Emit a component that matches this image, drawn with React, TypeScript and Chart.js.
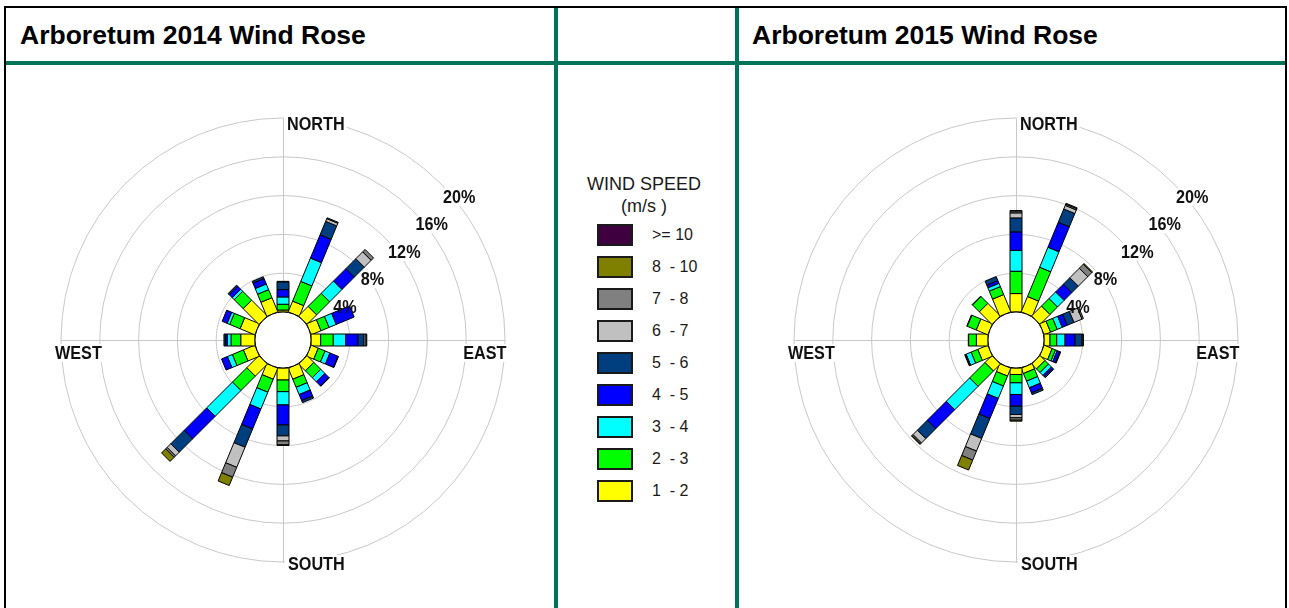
import React, { useEffect, useRef } from "react";
import { Chart, registerables } from "chart.js";

Chart.register(...registerables);

// ---------------- data ----------------
const DIRECTIONS = ["N", "NNE", "NE", "ENE", "E", "ESE", "SE", "SSE", "S", "SSW", "SW", "WSW", "W", "WNW", "NW", "NNW"];
const COMPASS_LABELS = ["NORTH", "EAST", "SOUTH", "WEST"];
const RING_TICKS = [4, 8, 12, 16, 20];
const RING_LABELS = ["4%", "8%", "12%", "16%", "20%"];
const SPEED_BINS = ["1  - 2", "2  - 3", "3  - 4", "4  - 5", "5  - 6", "6  - 7", "7  - 8", "8  - 10", ">= 10"];
const BIN_COLORS = ["#ffff00", "#00ff00", "#00ffff", "#0000ff", "#003f7f", "#c0c0c0", "#808080", "#808000", "#3f003f"];
const TITLES = ["Arboretum 2014 Wind Rose", "Arboretum 2015 Wind Rose"];
const LEGEND_TITLE = ["WIND SPEED", "(m/s )"];

// 2014 frequency (%) per direction, by speed bin
const WR2014_1_2 = [0.2, 1.2, 1.4, 1.1, 1.0, 0.8, 1.0, 1.24, 1.24, 1.24, 1.77, 1.28, 1.47, 1.65, 2.3, 1.58];
const WR2014_2_3 = [0.6, 2.2, 1.9, 0.9, 1.3, 0.75, 1.0, 0.9, 1.2, 1.45, 2.1, 1.23, 1.0, 1.15, 1.3, 0.9];
const WR2014_3_4 = [0.75, 2.6, 1.8, 0.8, 1.28, 0.55, 0.6, 0.81, 1.37, 1.87, 3.76, 0.56, 0.38, 0.3, 0.3, 0.63];
const WR2014_4_5 = [0.76, 2.6, 1.8, 2.0, 1.27, 0.9, 0.6, 0.67, 2.06, 2.23, 3.28, 0.65, 0.2, 0.55, 0.45, 0.6];
const WR2014_5_6 = [0.8, 1.5, 1.45, 0, 0.62, 0.05, 0.05, 0.23, 1.13, 2.04, 1.95, 0, 0.15, 0, 0.15, 0.2];
const WR2014_6_7 = [0.05, 0.3, 1.0, 0, 0.2, 0, 0, 0, 0.52, 2.24, 0.54, 0, 0, 0, 0, 0];
const WR2014_7_8 = [0, 0.1, 0.35, 0, 0.08, 0, 0, 0, 0.41, 1.1, 0.2, 0, 0, 0, 0, 0];
const WR2014_8_10 = [0, 0, 0, 0, 0, 0, 0, 0, 0.05, 0.93, 0.6, 0, 0, 0, 0, 0];
const WR2014_10 = [0, 0, 0, 0, 0, 0, 0, 0, 0, 0, 0, 0, 0, 0, 0, 0];

// 2015 frequency (%) per direction, by speed bin
const WR2015_1_2 = [1.9, 1.71, 1.45, 0.72, 0.62, 0.9, 0.72, 0.6, 0.67, 0.89, 1.02, 1.13, 1.2, 1.3, 1.84, 1.93];
const WR2015_2_3 = [2.3, 3.27, 1.1, 0.74, 0.69, 0.37, 0.52, 0.85, 0.86, 1.11, 2.24, 0.74, 0.8, 1.0, 1.0, 0.89];
const WR2015_3_4 = [2.16, 2.23, 0.96, 0.56, 0.86, 0.2, 0.42, 0.74, 1.2, 1.38, 3.4, 0.56, 0.03, 0.05, 0.05, 0.37];
const WR2015_4_5 = [1.9, 2.79, 1.13, 0.56, 1.03, 0.3, 0.2, 0.57, 1.2, 2.24, 2.77, 0.1, 0, 0, 0, 0.3];
const WR2015_5_6 = [1.44, 1.48, 0.94, 0.75, 0.69, 0.08, 0.14, 0.2, 0.86, 2.23, 1.45, 0.05, 0, 0, 0, 0.44];
const WR2015_6_7 = [0.52, 0.4, 1.38, 0.9, 0.12, 0, 0, 0, 0.34, 1.41, 0.64, 0, 0, 0, 0, 0];
const WR2015_7_8 = [0.2, 0.15, 0.6, 0.15, 0.05, 0, 0, 0, 0.25, 1.0, 0.15, 0, 0, 0, 0, 0];
const WR2015_8_10 = [0.04, 0.08, 0.09, 0, 0, 0, 0, 0, 0.1, 1.11, 0.06, 0, 0, 0, 0, 0];
const WR2015_10 = [0, 0, 0, 0, 0, 0, 0, 0, 0, 0, 0, 0, 0, 0, 0, 0];

const SERIES_2014 = [WR2014_1_2, WR2014_2_3, WR2014_3_4, WR2014_4_5, WR2014_5_6, WR2014_6_7, WR2014_7_8, WR2014_8_10, WR2014_10];
const SERIES_2015 = [WR2015_1_2, WR2015_2_3, WR2015_3_4, WR2015_4_5, WR2015_5_6, WR2015_6_7, WR2015_7_8, WR2015_8_10, WR2015_10];

// ---------------- geometry / style ----------------
const CANVAS = 500;
const CALM_PX = 28;
const PX_PER_PCT = 9.7;
const R_MIN = -CALM_PX / PX_PER_PCT;
const R_MAX = R_MIN + CANVAS / 2 / PX_PER_PCT;
const BAR_WIDTH = 12;
const GRID_COLOR = "#c8c8c8";
const GREEN = "#007458";
const FONT = '"Liberation Sans", Arial, sans-serif';
const LABEL_FONT = `bold 18px ${FONT}`;
const LABEL_SX = 0.9;
const CAP = 0.716 * 18;

function drawLabel(
  ctx: CanvasRenderingContext2D,
  text: string,
  x: number,
  baseline: number,
  align: "left" | "right",
  bg: boolean,
  fg: boolean
) {
  ctx.save();
  ctx.font = LABEL_FONT;
  const w = ctx.measureText(text).width * LABEL_SX;
  const left = align === "left" ? x : x - w;
  if (bg) {
    ctx.fillStyle = "#ffffff";
    ctx.fillRect(left - 3, baseline - CAP - 2, w + 5, CAP + 5);
  }
  if (fg) {
    ctx.translate(left, baseline);
    ctx.scale(LABEL_SX, 1);
    ctx.fillStyle = "#111111";
    ctx.textAlign = "left";
    ctx.textBaseline = "alphabetic";
    ctx.fillText(text, 0, 0);
  }
  ctx.restore();
}

function percentLabels(chart: any, bg: boolean, fg: boolean) {
  const s = chart.scales.r;
  const ctx: CanvasRenderingContext2D = chart.ctx;
  RING_TICKS.forEach((v, i) => {
    const d = s.getDistanceFromCenterForValue(v);
    const px = s.xCenter + d * Math.SQRT1_2;
    const py = s.yCenter - d * Math.SQRT1_2;
    drawLabel(ctx, RING_LABELS[i], px + 3, py + 20, "left", bg, fg);
  });
}

const roseDecor = {
  id: "roseDecor",
  beforeDatasetsDraw(chart: any) {
    const s = chart.scales.r;
    const ctx: CanvasRenderingContext2D = chart.ctx;
    const xc = s.xCenter;
    const yc = s.yCenter;
    const R = s.getDistanceFromCenterForValue(RING_TICKS[RING_TICKS.length - 1]);
    ctx.save();
    ctx.strokeStyle = GRID_COLOR;
    ctx.lineWidth = 1;
    for (let i = 0; i < DIRECTIONS.length; i += 4) {
      const p = s.getPointPosition(i, R);
      ctx.beginPath();
      ctx.moveTo(xc + 0.5, yc + 0.5);
      ctx.lineTo(p.x + 0.5, p.y + 0.5);
      ctx.stroke();
    }
    ctx.restore();
    percentLabels(chart, true, false);
    drawLabel(ctx, COMPASS_LABELS[0], xc + 4, yc - R + 12, "left", true, true);
    drawLabel(ctx, COMPASS_LABELS[1], xc + R + 1.5, yc + 19, "right", true, true);
    drawLabel(ctx, COMPASS_LABELS[2], xc + 5, yc + R + 8, "left", true, true);
    drawLabel(ctx, COMPASS_LABELS[3], xc - R - 6, yc + 19, "left", true, true);
  },
  afterDatasetsDraw(chart: any) {
    const s = chart.scales.r;
    const ctx: CanvasRenderingContext2D = chart.ctx;
    const nSets = chart.data.datasets.length;
    ctx.save();
    ctx.lineWidth = 1;
    ctx.strokeStyle = "#000000";
    for (let j = 0; j < DIRECTIONS.length; j++) {
      const ang = s.getIndexAngle(j) - Math.PI / 2;
      const nx = -Math.sin(ang) * (BAR_WIDTH / 2);
      const ny = Math.cos(ang) * (BAR_WIDTH / 2);
      let prev = s.getPointPositionForValue(j, 0);
      for (let k = 0; k < nSets; k++) {
        const pt = chart.getDatasetMeta(k).data[j];
        if (!pt) continue;
        if (Math.hypot(pt.x - prev.x, pt.y - prev.y) < 0.2) continue;
        ctx.beginPath();
        ctx.moveTo(prev.x + nx, prev.y + ny);
        ctx.lineTo(pt.x + nx, pt.y + ny);
        ctx.lineTo(pt.x - nx, pt.y - ny);
        ctx.lineTo(prev.x - nx, prev.y - ny);
        ctx.closePath();
        ctx.fillStyle = chart.data.datasets[k].backgroundColor;
        ctx.fill();
        ctx.stroke();
        prev = { x: pt.x, y: pt.y };
      }
    }
    // calm circle
    const rc = s.getDistanceFromCenterForValue(0);
    ctx.beginPath();
    ctx.arc(s.xCenter, s.yCenter, rc, 0, Math.PI * 2);
    ctx.fillStyle = "#ffffff";
    ctx.fill();
    ctx.stroke();
    ctx.restore();
    percentLabels(chart, false, true);
  },
};

function RoseChart({ series, left, top }: { series: number[][]; left: number; top: number }) {
  const ref = useRef<HTMLCanvasElement | null>(null);
  useEffect(() => {
    if (!ref.current) return;
    let cum = DIRECTIONS.map(() => 0);
    const datasets = series.map((vals, k) => {
      cum = cum.map((c, j) => c + vals[j]);
      return {
        label: SPEED_BINS[k],
        data: cum.slice(),
        backgroundColor: BIN_COLORS[k],
        borderColor: "#000000",
        borderWidth: 0,
        pointRadius: 0,
        pointHoverRadius: 0,
        showLine: false,
        fill: false,
      };
    });
    const chart = new Chart(ref.current, {
      type: "radar",
      data: { labels: DIRECTIONS, datasets },
      options: {
        animation: false,
        responsive: false,
        events: [],
        layout: { padding: 0 },
        plugins: { legend: { display: false }, tooltip: { enabled: false }, title: { display: false } },
        scales: {
          r: {
            min: R_MIN,
            max: R_MAX,
            startAngle: 0,
            angleLines: { display: false },
            pointLabels: { display: false },
            ticks: { display: false },
            grid: { circular: true, color: GRID_COLOR, lineWidth: 1 },
            afterBuildTicks: (scale: any) => {
              scale.ticks = [0, ...RING_TICKS].map((v) => ({ value: v }));
            },
          },
        },
      } as any,
      plugins: [roseDecor],
    });
    return () => chart.destroy();
  }, [series]);
  return (
    <canvas
      ref={ref}
      width={CANVAS}
      height={CANVAS}
      style={{ position: "absolute", left, top, width: CANVAS, height: CANVAS, display: "block" }}
    />
  );
}

function Bar({ l, t, w, h, c }: { l: number; t: number; w: number; h: number; c: string }) {
  return <div style={{ position: "absolute", left: l, top: t, width: w, height: h, background: c }} />;
}

function Legend() {
  const items = SPEED_BINS.map((label, i) => ({ label, color: BIN_COLORS[i] })).reverse();
  return (
    <>
      {LEGEND_TITLE.map((t, i) => (
        <div
          key={t}
          style={{
            position: "absolute",
            left: 558,
            width: 172,
            top: i === 0 ? 174.8 : 197,
            textAlign: "center",
            font: `18px ${FONT}`,
            lineHeight: "18px",
            color: "#1a1a1a",
            whiteSpace: "pre",
          }}
        >
          {t}
        </div>
      ))}
      {items.map((it, i) => (
        <React.Fragment key={it.label}>
          <div
            style={{
              position: "absolute",
              left: 597,
              top: 224 + 32 * i,
              width: 36,
              height: 22,
              boxSizing: "border-box",
              border: "2px solid #1a1a1a",
              background: it.color,
            }}
          />
          <div
            style={{
              position: "absolute",
              left: 652,
              top: 227.2 + 32 * i,
              font: `16px ${FONT}`,
              lineHeight: "16px",
              color: "#1a1a1a",
              whiteSpace: "pre",
            }}
          >
            {it.label}
          </div>
        </React.Fragment>
      ))}
    </>
  );
}

export default function App() {
  return (
    <div
      style={{
        position: "absolute",
        left: 0,
        top: 0,
        width: 1289,
        height: 608,
        overflow: "hidden",
        background: "#ffffff",
        fontFamily: FONT,
      }}
    >
      <Bar l={4} t={6} w={1283} h={2} c="#000" />
      <Bar l={4} t={6} w={2} h={602} c="#000" />
      <Bar l={1285} t={6} w={2} h={602} c="#000" />
      <Bar l={6} t={61} w={1279} h={4} c={GREEN} />
      <Bar l={554} t={8} w={4} h={600} c={GREEN} />
      <Bar l={735} t={8} w={4} h={600} c={GREEN} />
      {TITLES.map((t, i) => (
        <div
          key={t}
          style={{
            position: "absolute",
            left: i === 0 ? 20 : 752,
            top: 21.6,
            font: `bold 26.5px ${FONT}`,
            lineHeight: "26.5px",
            color: "#000",
            whiteSpace: "pre",
          }}
        >
          {t}
        </div>
      ))}
      <RoseChart series={SERIES_2014} left={283 - CANVAS / 2} top={340 - CANVAS / 2} />
      <RoseChart series={SERIES_2015} left={1016 - CANVAS / 2} top={340 - CANVAS / 2} />
      <Legend />
    </div>
  );
}
